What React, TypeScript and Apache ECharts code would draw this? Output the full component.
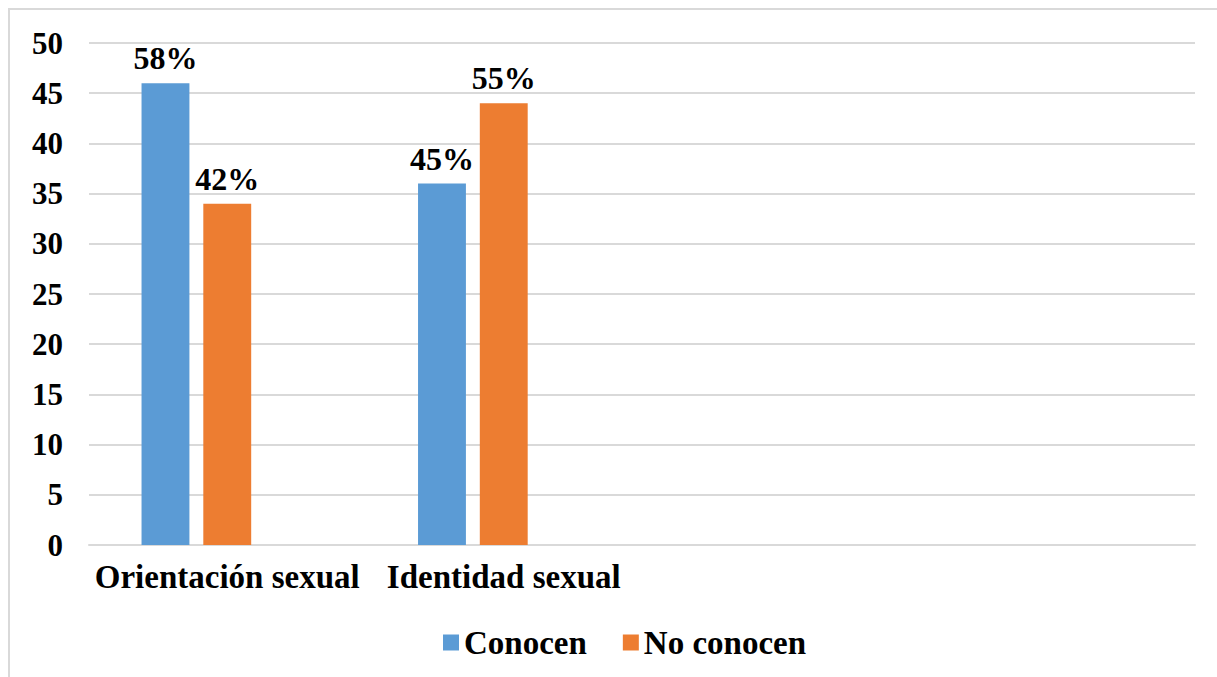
import React, { useEffect, useRef } from "react";
import * as echarts from "echarts";

const categories = ["Orientación sexual", "Identidad sexual", "", ""];
const conocen = [46, 36, null, null];
const noConocen = [34, 44, null, null];
const conocenLabels = ["58%", "45%", "", ""];
const noConocenLabels = ["42%", "55%", "", ""];
const yTicks = { min: 0, max: 50, interval: 5 };

const FONT = "'Liberation Serif', 'Times New Roman', serif";

export default function App() {
  const ref = useRef<HTMLDivElement>(null);
  useEffect(() => {
    if (!ref.current) return;
    const chart = echarts.init(ref.current, undefined, { renderer: "svg" });
    const labelStyle = {
      show: true,
      position: "top",
      distance: 9,
      color: "#000",
      fontFamily: FONT,
      fontWeight: "bold",
      fontSize: 32,
    };
    chart.setOption({
      animation: false,
      backgroundColor: "#fff",
      graphic: [
        {
          type: "rect",
          shape: { x: 9, y: 9, width: 1400, height: 900 },
          style: { fill: "none", stroke: "#d9d9d9", lineWidth: 2 },
          silent: true,
        },
      ],
      grid: { left: 89, right: 22, top: 43, bottom: 132, containLabel: false },
      legend: {
        data: ["Conocen", "No conocen"],
        left: 438,
        top: 621,
        icon: "rect",
        itemWidth: 16,
        itemHeight: 16,
        itemGap: 36,
        textStyle: { color: "#000", fontFamily: FONT, fontWeight: "bold", fontSize: 33 },
      },
      xAxis: {
        type: "category",
        data: categories,
        axisLine: { show: true, lineStyle: { color: "#d9d9d9", width: 2 } },
        axisTick: { show: false },
        axisLabel: {
          color: "#000",
          fontFamily: FONT,
          fontWeight: "bold",
          fontSize: 33,
          margin: 15,
          interval: 0,
        },
      },
      yAxis: {
        type: "value",
        min: yTicks.min,
        max: yTicks.max,
        interval: yTicks.interval,
        axisLine: { show: false },
        axisTick: { show: false },
        splitLine: { lineStyle: { color: "#d9d9d9", width: 2 } },
        axisLabel: {
          color: "#000",
          fontFamily: FONT,
          fontWeight: "bold",
          fontSize: 31,
          margin: 26,
        },
      },
      series: [
        {
          name: "Conocen",
          type: "bar",
          data: conocen,
          barGap: "29%",
          barCategoryGap: "38%",
          itemStyle: { color: "#5B9BD5" },
          label: { ...labelStyle, formatter: (p: any) => conocenLabels[p.dataIndex] },
        },
        {
          name: "No conocen",
          type: "bar",
          data: noConocen,
          itemStyle: { color: "#ED7D31" },
          label: { ...labelStyle, formatter: (p: any) => noConocenLabels[p.dataIndex] },
        },
        {
          name: "Serie 3",
          type: "bar",
          data: [null, null, null, null],
          itemStyle: { color: "#A5A5A5" },
        },
      ],
    });
    return () => chart.dispose();
  }, []);
  return (
    <div
      ref={ref}
      style={{ position: "fixed", left: 0, top: 0, width: 1217, height: 677 }}
    />
  );
}
